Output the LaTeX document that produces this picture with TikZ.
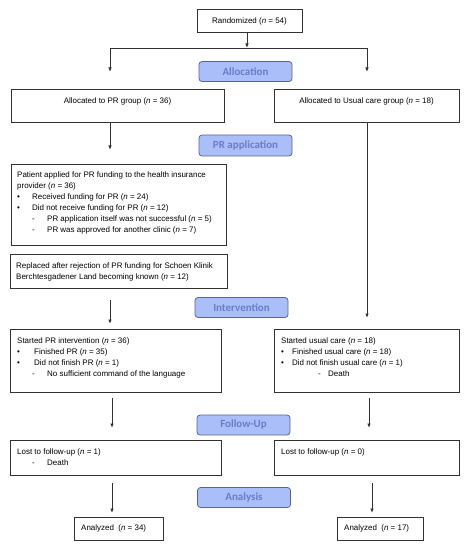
\documentclass[tikz,border=0pt]{standalone}
\usepackage{fontspec}
\setmainfont{Liberation Sans}
\newfontfamily\labfont{Carlito}
\usetikzlibrary{arrows.meta}
\definecolor{labfill}{RGB}{170,190,250}
\definecolor{labdraw}{RGB}{90,100,145}
\definecolor{labtext}{RGB}{105,125,200}
\definecolor{linec}{RGB}{50,50,50}
\newcommand{\nn}{\textit{n}}
\newcommand{\bul}[1]{\makebox[#1][l]{\textbullet}}
\newcommand{\dsh}[2]{\hspace*{#1}\makebox[#2][l]{-}}
\begin{document}
\begin{tikzpicture}[x=1bp,y=-1bp,
  box/.style={draw=linec, line width=0.9pt, fill=white, inner sep=0pt},
  lab/.style={draw=labdraw, line width=0.8pt, fill=labfill, rounded corners=3bp,
    minimum width=93bp, minimum height=20bp, inner sep=0pt,
    text=labtext, font=\labfont\bfseries\fontsize{11}{12}\selectfont},
  txt/.style={inner sep=0pt, anchor=north west, align=left,
    font=\fontsize{8}{11}\selectfont},
  ctxt/.style={inner sep=0pt, font=\fontsize{8}{11}\selectfont},
  arr/.style={draw=linec, line width=0.9pt, -{Latex[length=4.5bp,width=3.5bp]}},
  ln/.style={draw=linec, line width=0.9pt}]
\useasboundingbox (0,0) rectangle (469,550);

% boxes
\node[box, minimum width=105bp, minimum height=23bp] (rand) at (249.5,20.5) {};
\node[ctxt] (randt) at (249.5,21) {Randomized (\nn{} = 54)};

\node[box, minimum width=213bp, minimum height=33bp] (prA) at (117.5,105.5) {};
\node[ctxt] (prAt) at (117.5,101) {Allocated to PR group (\nn{} = 36)};
\node[box, minimum width=185bp, minimum height=33bp] (ucA) at (366.5,105.5) {};
\node[ctxt] (ucAt) at (366.5,101) {Allocated to Usual care group (\nn{} = 18)};

\node[box, minimum width=215bp, minimum height=81bp] (pat) at (118.5,204.5) {};
\node[txt] (patt) at (17,171.5) {Patient applied for PR funding to the health insurance\\
provider (\nn{} = 36)\\
\bul{15bp}Received funding for PR (\nn{} = 24)\\
\bul{15bp}Did not receive funding for PR (\nn{} = 12)\\
\dsh{15bp}{15bp}PR application itself was not successful (\nn{} = 5)\\
\dsh{15bp}{15bp}PR was approved for another clinic (\nn{} = 7)};

\node[box, minimum width=217bp, minimum height=34bp] (rep) at (118.5,271) {};
\node[txt] (rept) at (16,262.5) {Replaced after rejection of PR funding for Schoen Klinik\\
Berchtesgadener Land becoming known (\nn{} = 12)};

\node[box, minimum width=211bp, minimum height=63bp] (spr) at (115.5,360.5) {};
\node[txt] (sprt) at (17,337.5) {Started PR intervention (\nn{} = 36)\\
\bul{17bp}Finished PR (\nn{} = 35)\\
\bul{17bp}Did not finish PR (\nn{} = 1)\\
\dsh{15bp}{15bp}No sufficient command of the language};

\node[box, minimum width=185bp, minimum height=63bp] (suc) at (366.5,360.5) {};
\node[txt] (suct) at (281,337.5) {Started usual care (\nn{} = 18)\\
\bul{11bp}Finished usual care (\nn{} = 18)\\
\bul{11bp}Did not finish usual care (\nn{} = 1)\\
\dsh{37bp}{10bp}Death};

\node[box, minimum width=211bp, minimum height=35bp] (lpr) at (115.5,457.5) {};
\node[txt] (lprt) at (17,448.5) {Lost to follow-up (\nn{} = 1)\\
\dsh{15bp}{15bp}Death};
\node[box, minimum width=185bp, minimum height=35bp] (luc) at (366.5,457.5) {};
\node[txt] (luct) at (281,448.5) {Lost to follow-up (\nn{} = 0)};

\node[box, minimum width=89bp, minimum height=23bp] (a34) at (118.5,528.5) {};
\node[txt] (a34t) at (81,524.5) {Analyzed\ \ (\nn{} = 34)};
\node[box, minimum width=86bp, minimum height=23bp] (a17) at (380,528.5) {};
\node[txt] (a17t) at (344,524.5) {Analyzed\ \ (\nn{} = 17)};

% phase labels
\node[lab] (allo) at (245.5,71.5) {Allocation};
\node[lab, minimum height=21bp] (prap) at (245.5,145.5) {PR application};
\node[lab] (intv) at (241.5,307.5) {Intervention};
\node[lab] (foll) at (243.5,425) {Follow-Up};
\node[lab] (anal) at (244,497.5) {Analysis};

% connectors
\coordinate (sp) at (247,48);
\coordinate (sl) at (110,48);
\coordinate (sr) at (367,48);
\coordinate (el) at (110,72);
\coordinate (er) at (367,72);
\draw[arr] (rand.south -| sp) -- (sp);
\draw[ln] (sl) -- (sr);
\draw[arr] (sl) -- (el);
\draw[arr] (sr) -- (er);

\coordinate (p1) at (110,150);
\draw[arr] (prA.south -| p1) -- (p1);
\coordinate (r1) at (367,318);
\draw[arr] (ucA.south -| r1) -- (r1);
\coordinate (i0) at (110,300);
\coordinate (i1) at (110,324);
\draw[arr] (i0) -- (i1);

\coordinate (f0) at (112,398);
\coordinate (f1) at (112,428);
\draw[arr] (f0) -- (f1);
\coordinate (g0) at (369,398);
\coordinate (g1) at (369,428);
\draw[arr] (g0) -- (g1);

\coordinate (h0) at (112,483);
\coordinate (h1) at (112,513);
\draw[arr] (h0) -- (h1);
\coordinate (k0) at (372,483);
\coordinate (k1) at (372,513);
\draw[arr] (k0) -- (k1);
\end{tikzpicture}
\end{document}
